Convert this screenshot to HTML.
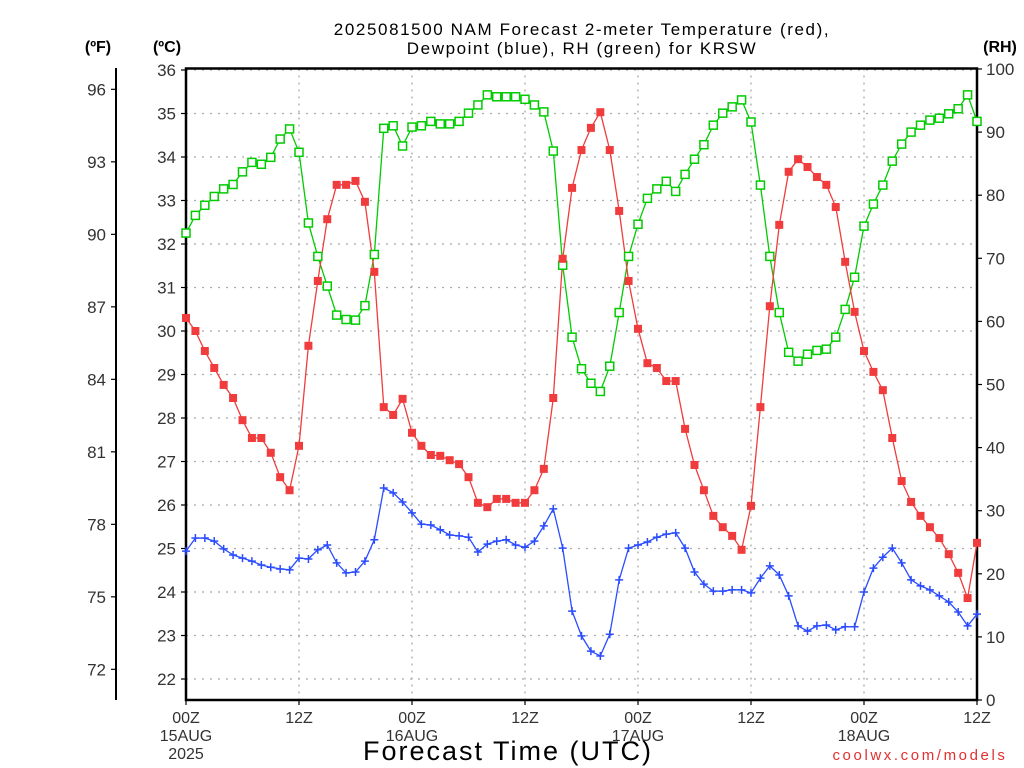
<!DOCTYPE html>
<html><head><meta charset="utf-8"><style>
body{margin:0;background:#fff;}
svg{display:block;font-family:"Liberation Sans",sans-serif;}
</style></head><body>
<svg id="chart" width="1024" height="768" viewBox="0 0 1024 768">
<text x="582" y="35" text-anchor="middle" font-size="17" letter-spacing="1.6">2025081500 NAM Forecast 2-meter Temperature (red),</text>
<text x="582" y="54" text-anchor="middle" font-size="17" letter-spacing="1.6">Dewpoint (blue), RH (green) for KRSW</text>
<text x="98" y="52" text-anchor="middle" font-size="16" font-weight="bold">(ºF)</text>
<text x="167" y="52" text-anchor="middle" font-size="16" font-weight="bold">(ºC)</text>
<text x="1000" y="52" text-anchor="middle" font-size="16" font-weight="bold">(RH)</text>
<g id="grid"></g>
<g id="axes"></g>
<g id="series"></g>
<text x="508" y="760" text-anchor="middle" font-size="27" letter-spacing="2">Forecast Time (UTC)</text>
<text x="920" y="760" text-anchor="middle" font-size="15" fill="#e03030" letter-spacing="2.6">coolwx.com/models</text>
</svg>
<script>
const tempC=[30.3,30.0,29.54,29.15,28.76,28.46,27.95,27.54,27.54,27.2,26.64,26.34,27.36,29.66,31.15,32.57,33.36,33.36,33.45,32.97,31.36,28.25,28.07,28.44,27.66,27.36,27.15,27.13,27.03,26.94,26.64,26.05,25.95,26.14,26.14,26.05,26.05,26.34,26.83,28.46,31.66,33.29,34.16,34.67,35.03,34.16,32.76,31.15,30.05,29.26,29.15,28.85,28.85,27.75,26.92,26.34,25.75,25.49,25.29,24.97,25.98,28.25,30.57,32.44,33.66,33.95,33.77,33.54,33.36,32.85,31.59,30.44,29.54,29.06,28.64,27.54,26.55,26.07,25.75,25.49,25.24,24.87,24.44,23.86,25.13];
const dewC=[24.94,25.24,25.24,25.17,24.99,24.85,24.78,24.71,24.62,24.57,24.53,24.51,24.78,24.76,24.97,25.08,24.67,24.44,24.46,24.71,25.2,26.39,26.28,26.07,25.82,25.56,25.54,25.43,25.31,25.29,25.26,24.92,25.1,25.17,25.2,25.08,25.03,25.17,25.52,25.91,25.01,23.56,22.99,22.64,22.53,23.03,24.28,25.01,25.08,25.15,25.26,25.33,25.36,25.01,24.46,24.18,24.02,24.02,24.05,24.05,23.98,24.32,24.6,24.39,23.91,23.22,23.1,23.22,23.24,23.13,23.2,23.2,24.0,24.55,24.8,25.01,24.67,24.28,24.14,24.05,23.91,23.77,23.54,23.22,23.49];
const rh=[74,76.8,78.4,79.8,81,81.7,83.7,85.2,84.9,86,88.9,90.5,86.8,75.6,70.3,65.6,61,60.3,60.2,62.5,70.6,90.6,91,87.8,90.8,91,91.7,91.3,91.3,91.7,93,94.3,95.9,95.6,95.6,95.6,95.2,94.3,93.2,87,68.9,57.5,52.5,50.2,48.9,52.9,61.4,70.3,75.4,79.5,81,82.2,80.6,83.3,85.7,88,91.1,93,94,95.1,91.6,81.6,70.3,61.4,55.1,53.7,54.8,55.4,55.6,57.5,61.9,67,75.1,78.6,81.6,85.4,88.1,90,91.1,91.9,92.2,92.9,93.7,95.9,91.7];
const cTicks=[22,23,24,25,26,27,28,29,30,31,32,33,34,35,36];
const fTicks=[72,75,78,81,84,87,90,93,96];
const rhTicks=[0,10,20,30,40,50,60,70,80,90,100];
const xTickHours=[0,12,24,36,48,60,72,84];
const xTickLabels=["00Z","12Z","00Z","12Z","00Z","12Z","00Z","12Z"];
const xDateLabels={0:["15AUG","2025"],24:["16AUG"],48:["17AUG"],72:["18AUG"]};

const NS="http://www.w3.org/2000/svg";
const L=186,R=977,T=68.5,B=700;
const x=h=>L+(R-L)*h/84;
const yC=c=>70+(36-c)*43.5;
const yF=f=>yC((f-32)*5/9);
const yRH=r=>700-(r/100)*631;
function mk(p,tag,a){const e=document.createElementNS(NS,tag);for(const k in a)e.setAttribute(k,a[k]);p.appendChild(e);return e;}
const G=document.getElementById('grid'),A=document.getElementById('axes'),S=document.getElementById('series');
const LBL='#333';

cTicks.forEach(c=>{
  const l=mk(G,'line',{x1:L,x2:R,y1:yC(c),y2:yC(c),stroke:'#aaa','stroke-dasharray':'2,6','stroke-width':1.3});
  
  
  const t=mk(A,'line',{x1:L-5,x2:L,y1:yC(c),y2:yC(c),stroke:'#000','stroke-width':1.2});
  
  
  const tx=mk(A,'text',{x:L-10,y:yC(c)+6,'text-anchor':'end','font-size':17,fill:LBL});
  tx.textContent=c;
  
  
});
xTickHours.forEach((h,i)=>{
  if(h%12===0&&h>0&&h<84){
    const l=mk(G,'line',{x1:x(h),x2:x(h),y1:T,y2:B,stroke:'#aaa','stroke-dasharray':'2,5','stroke-width':1.3});
    
    
  }
  const t=mk(A,'line',{x1:x(h),x2:x(h),y1:B,y2:B+5,stroke:'#000','stroke-width':1.2});
  
  
  const tx=mk(A,'text',{x:x(h),y:B+23,'text-anchor':'middle','font-size':16,fill:LBL});
  tx.textContent=xTickLabels[i];
  
  
  (xDateLabels[h]||[]).forEach((s,j)=>{
    const d=mk(A,'text',{x:x(h),y:B+41+j*18,'text-anchor':'middle','font-size':16,fill:LBL});
    d.textContent=s;
    
    
  });
});
fTicks.forEach(f=>{
  const t=mk(A,'line',{x1:111,x2:116,y1:yF(f),y2:yF(f),stroke:'#000','stroke-width':1.2});
  
  
  const tx=mk(A,'text',{x:106,y:yF(f)+6,'text-anchor':'end','font-size':17,fill:LBL});
  tx.textContent=f;
  
  
});
rhTicks.forEach(r=>{
  const t=mk(A,'line',{x1:R,x2:R+5,y1:yRH(r),y2:yRH(r),stroke:'#000','stroke-width':1.2});
  
  
  const tx=mk(A,'text',{x:R+9,y:yRH(r)+6,'font-size':17,fill:LBL});
  tx.textContent=r;
  
  
});
const fa=mk(A,'line',{x1:116,x2:116,y1:68,y2:700,stroke:'#000','stroke-width':2});


const box=mk(A,'rect',{x:L,y:T,width:R-L,height:B-T,fill:'none',stroke:'#000','stroke-width':2.5});



function line(vals,yf,color,name){
  const pts=vals.map((v,i)=>x(i).toFixed(1)+','+yf(v).toFixed(1)).join(' ');
  const p=mk(S,'polyline',{points:pts,fill:'none',stroke:color,'stroke-width':1.3});
  
  
}
line(rh,yRH,'#00cc00','rh');
line(tempC,yC,'#f03c3c','temperature');
line(dewC,yC,'#2a4cff','dewpoint');
rh.forEach((v,i)=>{
  const m=mk(S,'rect',{x:x(i)-4,y:yRH(v)-4,width:8,height:8,fill:'#fff',stroke:'#00cc00','stroke-width':1.5});
  
  
});
tempC.forEach((v,i)=>{
  const m=mk(S,'rect',{x:x(i)-4,y:yC(v)-4,width:8,height:8,fill:'#f03c3c'});
  
  
});
dewC.forEach((v,i)=>{
  const m=mk(S,'path',{d:`M${x(i)-4},${yC(v)}h8M${x(i)},${yC(v)-4}v8`,stroke:'#2a4cff','stroke-width':1.5});
  
  
});
</script>
</body></html>
